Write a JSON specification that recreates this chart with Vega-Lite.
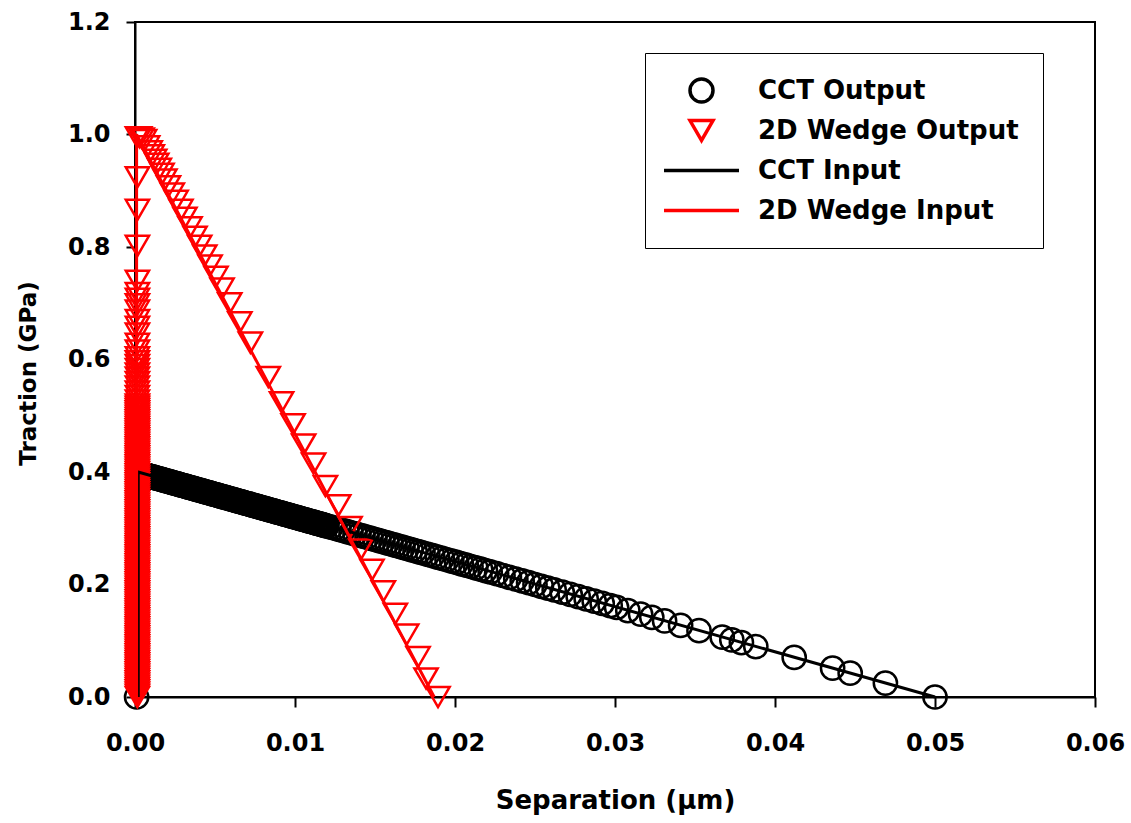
{
  "$schema": "https://vega.github.io/schema/vega-lite/v6.json",
  "width": 960,
  "height": 675,
  "autosize": "none",
  "padding": {"left": 135, "top": 22, "right": 36, "bottom": 126},
  "background": "white",
  "config": {
    "font": "DejaVu Sans",
    "view": {"stroke": "black", "strokeWidth": 2},
    "axis": {
      "grid": false,
      "domainColor": "black",
      "domainWidth": 2,
      "tickColor": "black",
      "tickWidth": 2,
      "labelFont": "DejaVu Sans",
      "labelFontWeight": "bold",
      "labelFontSize": 24,
      "labelColor": "black",
      "labelFlush": false,
      "titleFont": "DejaVu Sans",
      "titleFontWeight": "bold",
      "titleFontSize": 26,
      "titleColor": "black"
    }
  },
  "datasets": {
    "pts": [
      {"s": "CCT Output", "x": 0.0001, "y": 0.0},
      {"s": "CCT Output", "x": 0.0004, "y": 0.3968},
      {"s": "CCT Output", "x": 0.0006, "y": 0.3952},
      {"s": "CCT Output", "x": 0.0008, "y": 0.3936},
      {"s": "CCT Output", "x": 0.0010, "y": 0.392},
      {"s": "CCT Output", "x": 0.0012, "y": 0.3904},
      {"s": "CCT Output", "x": 0.0014, "y": 0.3888},
      {"s": "CCT Output", "x": 0.0016, "y": 0.3872},
      {"s": "CCT Output", "x": 0.0018, "y": 0.3856},
      {"s": "CCT Output", "x": 0.0020, "y": 0.384},
      {"s": "CCT Output", "x": 0.0022, "y": 0.3824},
      {"s": "CCT Output", "x": 0.0024, "y": 0.3808},
      {"s": "CCT Output", "x": 0.0026, "y": 0.3792},
      {"s": "CCT Output", "x": 0.0028, "y": 0.3776},
      {"s": "CCT Output", "x": 0.0030, "y": 0.376},
      {"s": "CCT Output", "x": 0.0032, "y": 0.3744},
      {"s": "CCT Output", "x": 0.0034, "y": 0.3728},
      {"s": "CCT Output", "x": 0.0036, "y": 0.3712},
      {"s": "CCT Output", "x": 0.0038, "y": 0.3696},
      {"s": "CCT Output", "x": 0.0040, "y": 0.368},
      {"s": "CCT Output", "x": 0.0042, "y": 0.3664},
      {"s": "CCT Output", "x": 0.0044, "y": 0.3648},
      {"s": "CCT Output", "x": 0.0046, "y": 0.3632},
      {"s": "CCT Output", "x": 0.0048, "y": 0.3616},
      {"s": "CCT Output", "x": 0.0050, "y": 0.36},
      {"s": "CCT Output", "x": 0.0052, "y": 0.3584},
      {"s": "CCT Output", "x": 0.0054, "y": 0.3568},
      {"s": "CCT Output", "x": 0.0056, "y": 0.3552},
      {"s": "CCT Output", "x": 0.0058, "y": 0.3536},
      {"s": "CCT Output", "x": 0.0060, "y": 0.352},
      {"s": "CCT Output", "x": 0.0062, "y": 0.3504},
      {"s": "CCT Output", "x": 0.0064, "y": 0.3488},
      {"s": "CCT Output", "x": 0.0066, "y": 0.3472},
      {"s": "CCT Output", "x": 0.0068, "y": 0.3456},
      {"s": "CCT Output", "x": 0.0070, "y": 0.344},
      {"s": "CCT Output", "x": 0.0072, "y": 0.3424},
      {"s": "CCT Output", "x": 0.0074, "y": 0.3408},
      {"s": "CCT Output", "x": 0.0076, "y": 0.3392},
      {"s": "CCT Output", "x": 0.0078, "y": 0.3376},
      {"s": "CCT Output", "x": 0.0080, "y": 0.336},
      {"s": "CCT Output", "x": 0.0082, "y": 0.3344},
      {"s": "CCT Output", "x": 0.0084, "y": 0.3328},
      {"s": "CCT Output", "x": 0.0086, "y": 0.3312},
      {"s": "CCT Output", "x": 0.0088, "y": 0.3296},
      {"s": "CCT Output", "x": 0.0090, "y": 0.328},
      {"s": "CCT Output", "x": 0.0092, "y": 0.3264},
      {"s": "CCT Output", "x": 0.0094, "y": 0.3248},
      {"s": "CCT Output", "x": 0.0096, "y": 0.3232},
      {"s": "CCT Output", "x": 0.0098, "y": 0.3216},
      {"s": "CCT Output", "x": 0.0100, "y": 0.32},
      {"s": "CCT Output", "x": 0.0102, "y": 0.3184},
      {"s": "CCT Output", "x": 0.0104, "y": 0.3168},
      {"s": "CCT Output", "x": 0.0106, "y": 0.3152},
      {"s": "CCT Output", "x": 0.0108, "y": 0.3136},
      {"s": "CCT Output", "x": 0.0110, "y": 0.312},
      {"s": "CCT Output", "x": 0.0112, "y": 0.3104},
      {"s": "CCT Output", "x": 0.0114, "y": 0.3088},
      {"s": "CCT Output", "x": 0.0116, "y": 0.3072},
      {"s": "CCT Output", "x": 0.0118, "y": 0.3056},
      {"s": "CCT Output", "x": 0.0120, "y": 0.304},
      {"s": "CCT Output", "x": 0.0005, "y": 0.396},
      {"s": "CCT Output", "x": 0.0007, "y": 0.3944},
      {"s": "CCT Output", "x": 0.0009, "y": 0.3928},
      {"s": "CCT Output", "x": 0.0011, "y": 0.3912},
      {"s": "CCT Output", "x": 0.0013, "y": 0.3896},
      {"s": "CCT Output", "x": 0.0015, "y": 0.388},
      {"s": "CCT Output", "x": 0.0017, "y": 0.3864},
      {"s": "CCT Output", "x": 0.0019, "y": 0.3848},
      {"s": "CCT Output", "x": 0.0021, "y": 0.3832},
      {"s": "CCT Output", "x": 0.0023, "y": 0.3816},
      {"s": "CCT Output", "x": 0.0025, "y": 0.38},
      {"s": "CCT Output", "x": 0.0027, "y": 0.3784},
      {"s": "CCT Output", "x": 0.0029, "y": 0.3768},
      {"s": "CCT Output", "x": 0.0031, "y": 0.3752},
      {"s": "CCT Output", "x": 0.0033, "y": 0.3736},
      {"s": "CCT Output", "x": 0.0035, "y": 0.372},
      {"s": "CCT Output", "x": 0.0037, "y": 0.3704},
      {"s": "CCT Output", "x": 0.0039, "y": 0.3688},
      {"s": "CCT Output", "x": 0.0041, "y": 0.3672},
      {"s": "CCT Output", "x": 0.0043, "y": 0.3656},
      {"s": "CCT Output", "x": 0.0045, "y": 0.364},
      {"s": "CCT Output", "x": 0.0047, "y": 0.3624},
      {"s": "CCT Output", "x": 0.0049, "y": 0.3608},
      {"s": "CCT Output", "x": 0.0051, "y": 0.3592},
      {"s": "CCT Output", "x": 0.0053, "y": 0.3576},
      {"s": "CCT Output", "x": 0.0055, "y": 0.356},
      {"s": "CCT Output", "x": 0.0057, "y": 0.3544},
      {"s": "CCT Output", "x": 0.0059, "y": 0.3528},
      {"s": "CCT Output", "x": 0.0061, "y": 0.3512},
      {"s": "CCT Output", "x": 0.0063, "y": 0.3496},
      {"s": "CCT Output", "x": 0.0065, "y": 0.348},
      {"s": "CCT Output", "x": 0.0067, "y": 0.3464},
      {"s": "CCT Output", "x": 0.0069, "y": 0.3448},
      {"s": "CCT Output", "x": 0.0071, "y": 0.3432},
      {"s": "CCT Output", "x": 0.0073, "y": 0.3416},
      {"s": "CCT Output", "x": 0.0075, "y": 0.34},
      {"s": "CCT Output", "x": 0.0077, "y": 0.3384},
      {"s": "CCT Output", "x": 0.0079, "y": 0.3368},
      {"s": "CCT Output", "x": 0.0081, "y": 0.3352},
      {"s": "CCT Output", "x": 0.0083, "y": 0.3336},
      {"s": "CCT Output", "x": 0.0085, "y": 0.332},
      {"s": "CCT Output", "x": 0.0087, "y": 0.3304},
      {"s": "CCT Output", "x": 0.0089, "y": 0.3288},
      {"s": "CCT Output", "x": 0.0091, "y": 0.3272},
      {"s": "CCT Output", "x": 0.0093, "y": 0.3256},
      {"s": "CCT Output", "x": 0.0095, "y": 0.324},
      {"s": "CCT Output", "x": 0.0097, "y": 0.3224},
      {"s": "CCT Output", "x": 0.0099, "y": 0.3208},
      {"s": "CCT Output", "x": 0.0101, "y": 0.3192},
      {"s": "CCT Output", "x": 0.0103, "y": 0.3176},
      {"s": "CCT Output", "x": 0.0105, "y": 0.316},
      {"s": "CCT Output", "x": 0.0107, "y": 0.3144},
      {"s": "CCT Output", "x": 0.0109, "y": 0.3128},
      {"s": "CCT Output", "x": 0.0111, "y": 0.3112},
      {"s": "CCT Output", "x": 0.0113, "y": 0.3096},
      {"s": "CCT Output", "x": 0.0115, "y": 0.308},
      {"s": "CCT Output", "x": 0.0117, "y": 0.3064},
      {"s": "CCT Output", "x": 0.0119, "y": 0.3048},
      {"s": "CCT Output", "x": 0.01225, "y": 0.302},
      {"s": "CCT Output", "x": 0.0125, "y": 0.300},
      {"s": "CCT Output", "x": 0.01275, "y": 0.298},
      {"s": "CCT Output", "x": 0.0130, "y": 0.296},
      {"s": "CCT Output", "x": 0.01325, "y": 0.294},
      {"s": "CCT Output", "x": 0.0135, "y": 0.292},
      {"s": "CCT Output", "x": 0.01375, "y": 0.290},
      {"s": "CCT Output", "x": 0.0140, "y": 0.288},
      {"s": "CCT Output", "x": 0.01425, "y": 0.286},
      {"s": "CCT Output", "x": 0.0145, "y": 0.284},
      {"s": "CCT Output", "x": 0.01475, "y": 0.282},
      {"s": "CCT Output", "x": 0.0150, "y": 0.280},
      {"s": "CCT Output", "x": 0.01525, "y": 0.278},
      {"s": "CCT Output", "x": 0.0155, "y": 0.276},
      {"s": "CCT Output", "x": 0.01575, "y": 0.274},
      {"s": "CCT Output", "x": 0.0160, "y": 0.272},
      {"s": "CCT Output", "x": 0.01625, "y": 0.270},
      {"s": "CCT Output", "x": 0.0165, "y": 0.268},
      {"s": "CCT Output", "x": 0.01675, "y": 0.266},
      {"s": "CCT Output", "x": 0.0170, "y": 0.264},
      {"s": "CCT Output", "x": 0.01725, "y": 0.262},
      {"s": "CCT Output", "x": 0.0175, "y": 0.260},
      {"s": "CCT Output", "x": 0.01775, "y": 0.258},
      {"s": "CCT Output", "x": 0.0180, "y": 0.256},
      {"s": "CCT Output", "x": 0.0183, "y": 0.2536},
      {"s": "CCT Output", "x": 0.0186, "y": 0.2512},
      {"s": "CCT Output", "x": 0.0189, "y": 0.2488},
      {"s": "CCT Output", "x": 0.0192, "y": 0.2464},
      {"s": "CCT Output", "x": 0.0195, "y": 0.244},
      {"s": "CCT Output", "x": 0.0198, "y": 0.2416},
      {"s": "CCT Output", "x": 0.0201, "y": 0.2392},
      {"s": "CCT Output", "x": 0.0204, "y": 0.2368},
      {"s": "CCT Output", "x": 0.0207, "y": 0.2344},
      {"s": "CCT Output", "x": 0.0210, "y": 0.232},
      {"s": "CCT Output", "x": 0.0213, "y": 0.2296},
      {"s": "CCT Output", "x": 0.0216, "y": 0.2272},
      {"s": "CCT Output", "x": 0.0219, "y": 0.2248},
      {"s": "CCT Output", "x": 0.0222, "y": 0.2224},
      {"s": "CCT Output", "x": 0.0226, "y": 0.2192},
      {"s": "CCT Output", "x": 0.0230, "y": 0.216},
      {"s": "CCT Output", "x": 0.0234, "y": 0.2128},
      {"s": "CCT Output", "x": 0.0238, "y": 0.2096},
      {"s": "CCT Output", "x": 0.0242, "y": 0.2064},
      {"s": "CCT Output", "x": 0.0246, "y": 0.2032},
      {"s": "CCT Output", "x": 0.0250, "y": 0.200},
      {"s": "CCT Output", "x": 0.0254, "y": 0.1968},
      {"s": "CCT Output", "x": 0.0258, "y": 0.1936},
      {"s": "CCT Output", "x": 0.0262, "y": 0.1904},
      {"s": "CCT Output", "x": 0.0267, "y": 0.1864},
      {"s": "CCT Output", "x": 0.0272, "y": 0.1824},
      {"s": "CCT Output", "x": 0.0277, "y": 0.1784},
      {"s": "CCT Output", "x": 0.0282, "y": 0.1744},
      {"s": "CCT Output", "x": 0.0287, "y": 0.1704},
      {"s": "CCT Output", "x": 0.0292, "y": 0.1664},
      {"s": "CCT Output", "x": 0.0297, "y": 0.1624},
      {"s": "CCT Output", "x": 0.0301, "y": 0.1592},
      {"s": "CCT Output", "x": 0.0308, "y": 0.1536},
      {"s": "CCT Output", "x": 0.0316, "y": 0.1472},
      {"s": "CCT Output", "x": 0.0323, "y": 0.1416},
      {"s": "CCT Output", "x": 0.0331, "y": 0.1352},
      {"s": "CCT Output", "x": 0.0341, "y": 0.1272},
      {"s": "CCT Output", "x": 0.03525, "y": 0.118},
      {"s": "CCT Output", "x": 0.0367, "y": 0.1064},
      {"s": "CCT Output", "x": 0.0373, "y": 0.1016},
      {"s": "CCT Output", "x": 0.0379, "y": 0.0968},
      {"s": "CCT Output", "x": 0.0388, "y": 0.0896},
      {"s": "CCT Output", "x": 0.0412, "y": 0.0704},
      {"s": "CCT Output", "x": 0.0436, "y": 0.0512},
      {"s": "CCT Output", "x": 0.0447, "y": 0.0424},
      {"s": "CCT Output", "x": 0.0469, "y": 0.0248},
      {"s": "CCT Output", "x": 0.0500, "y": 0.0},
      {"s": "2D Wedge Output", "x": 0.00015, "y": 0.0},
      {"s": "2D Wedge Output", "x": 0.00015, "y": 0.004},
      {"s": "2D Wedge Output", "x": 0.00015, "y": 0.008},
      {"s": "2D Wedge Output", "x": 0.00015, "y": 0.012},
      {"s": "2D Wedge Output", "x": 0.00015, "y": 0.016},
      {"s": "2D Wedge Output", "x": 0.00015, "y": 0.02},
      {"s": "2D Wedge Output", "x": 0.00015, "y": 0.024},
      {"s": "2D Wedge Output", "x": 0.00015, "y": 0.028},
      {"s": "2D Wedge Output", "x": 0.00015, "y": 0.032},
      {"s": "2D Wedge Output", "x": 0.00015, "y": 0.036},
      {"s": "2D Wedge Output", "x": 0.00015, "y": 0.04},
      {"s": "2D Wedge Output", "x": 0.00015, "y": 0.044},
      {"s": "2D Wedge Output", "x": 0.00015, "y": 0.048},
      {"s": "2D Wedge Output", "x": 0.00015, "y": 0.052},
      {"s": "2D Wedge Output", "x": 0.00015, "y": 0.056},
      {"s": "2D Wedge Output", "x": 0.00015, "y": 0.06},
      {"s": "2D Wedge Output", "x": 0.00015, "y": 0.064},
      {"s": "2D Wedge Output", "x": 0.00015, "y": 0.068},
      {"s": "2D Wedge Output", "x": 0.00015, "y": 0.072},
      {"s": "2D Wedge Output", "x": 0.00015, "y": 0.076},
      {"s": "2D Wedge Output", "x": 0.00015, "y": 0.08},
      {"s": "2D Wedge Output", "x": 0.00015, "y": 0.084},
      {"s": "2D Wedge Output", "x": 0.00015, "y": 0.088},
      {"s": "2D Wedge Output", "x": 0.00015, "y": 0.092},
      {"s": "2D Wedge Output", "x": 0.00015, "y": 0.096},
      {"s": "2D Wedge Output", "x": 0.00015, "y": 0.1},
      {"s": "2D Wedge Output", "x": 0.00015, "y": 0.104},
      {"s": "2D Wedge Output", "x": 0.00015, "y": 0.108},
      {"s": "2D Wedge Output", "x": 0.00015, "y": 0.112},
      {"s": "2D Wedge Output", "x": 0.00015, "y": 0.116},
      {"s": "2D Wedge Output", "x": 0.00015, "y": 0.12},
      {"s": "2D Wedge Output", "x": 0.00015, "y": 0.124},
      {"s": "2D Wedge Output", "x": 0.00015, "y": 0.128},
      {"s": "2D Wedge Output", "x": 0.00015, "y": 0.132},
      {"s": "2D Wedge Output", "x": 0.00015, "y": 0.136},
      {"s": "2D Wedge Output", "x": 0.00015, "y": 0.14},
      {"s": "2D Wedge Output", "x": 0.00015, "y": 0.144},
      {"s": "2D Wedge Output", "x": 0.00015, "y": 0.148},
      {"s": "2D Wedge Output", "x": 0.00015, "y": 0.152},
      {"s": "2D Wedge Output", "x": 0.00015, "y": 0.156},
      {"s": "2D Wedge Output", "x": 0.00015, "y": 0.16},
      {"s": "2D Wedge Output", "x": 0.00015, "y": 0.164},
      {"s": "2D Wedge Output", "x": 0.00015, "y": 0.168},
      {"s": "2D Wedge Output", "x": 0.00015, "y": 0.172},
      {"s": "2D Wedge Output", "x": 0.00015, "y": 0.176},
      {"s": "2D Wedge Output", "x": 0.00015, "y": 0.18},
      {"s": "2D Wedge Output", "x": 0.00015, "y": 0.184},
      {"s": "2D Wedge Output", "x": 0.00015, "y": 0.188},
      {"s": "2D Wedge Output", "x": 0.00015, "y": 0.192},
      {"s": "2D Wedge Output", "x": 0.00015, "y": 0.196},
      {"s": "2D Wedge Output", "x": 0.00015, "y": 0.2},
      {"s": "2D Wedge Output", "x": 0.00015, "y": 0.204},
      {"s": "2D Wedge Output", "x": 0.00015, "y": 0.208},
      {"s": "2D Wedge Output", "x": 0.00015, "y": 0.212},
      {"s": "2D Wedge Output", "x": 0.00015, "y": 0.216},
      {"s": "2D Wedge Output", "x": 0.00015, "y": 0.22},
      {"s": "2D Wedge Output", "x": 0.00015, "y": 0.224},
      {"s": "2D Wedge Output", "x": 0.00015, "y": 0.228},
      {"s": "2D Wedge Output", "x": 0.00015, "y": 0.232},
      {"s": "2D Wedge Output", "x": 0.00015, "y": 0.236},
      {"s": "2D Wedge Output", "x": 0.00015, "y": 0.24},
      {"s": "2D Wedge Output", "x": 0.00015, "y": 0.244},
      {"s": "2D Wedge Output", "x": 0.00015, "y": 0.248},
      {"s": "2D Wedge Output", "x": 0.00015, "y": 0.252},
      {"s": "2D Wedge Output", "x": 0.00015, "y": 0.256},
      {"s": "2D Wedge Output", "x": 0.00015, "y": 0.26},
      {"s": "2D Wedge Output", "x": 0.00015, "y": 0.264},
      {"s": "2D Wedge Output", "x": 0.00015, "y": 0.268},
      {"s": "2D Wedge Output", "x": 0.00015, "y": 0.272},
      {"s": "2D Wedge Output", "x": 0.00015, "y": 0.276},
      {"s": "2D Wedge Output", "x": 0.00015, "y": 0.28},
      {"s": "2D Wedge Output", "x": 0.00015, "y": 0.284},
      {"s": "2D Wedge Output", "x": 0.00015, "y": 0.288},
      {"s": "2D Wedge Output", "x": 0.00015, "y": 0.292},
      {"s": "2D Wedge Output", "x": 0.00015, "y": 0.296},
      {"s": "2D Wedge Output", "x": 0.00015, "y": 0.3},
      {"s": "2D Wedge Output", "x": 0.00015, "y": 0.304},
      {"s": "2D Wedge Output", "x": 0.00015, "y": 0.308},
      {"s": "2D Wedge Output", "x": 0.00015, "y": 0.312},
      {"s": "2D Wedge Output", "x": 0.00015, "y": 0.316},
      {"s": "2D Wedge Output", "x": 0.00015, "y": 0.32},
      {"s": "2D Wedge Output", "x": 0.00015, "y": 0.324},
      {"s": "2D Wedge Output", "x": 0.00015, "y": 0.328},
      {"s": "2D Wedge Output", "x": 0.00015, "y": 0.332},
      {"s": "2D Wedge Output", "x": 0.00015, "y": 0.336},
      {"s": "2D Wedge Output", "x": 0.00015, "y": 0.34},
      {"s": "2D Wedge Output", "x": 0.00015, "y": 0.344},
      {"s": "2D Wedge Output", "x": 0.00015, "y": 0.348},
      {"s": "2D Wedge Output", "x": 0.00015, "y": 0.352},
      {"s": "2D Wedge Output", "x": 0.00015, "y": 0.356},
      {"s": "2D Wedge Output", "x": 0.00015, "y": 0.36},
      {"s": "2D Wedge Output", "x": 0.00015, "y": 0.364},
      {"s": "2D Wedge Output", "x": 0.00015, "y": 0.368},
      {"s": "2D Wedge Output", "x": 0.00015, "y": 0.372},
      {"s": "2D Wedge Output", "x": 0.00015, "y": 0.376},
      {"s": "2D Wedge Output", "x": 0.00015, "y": 0.38},
      {"s": "2D Wedge Output", "x": 0.00015, "y": 0.384},
      {"s": "2D Wedge Output", "x": 0.00015, "y": 0.388},
      {"s": "2D Wedge Output", "x": 0.00015, "y": 0.392},
      {"s": "2D Wedge Output", "x": 0.00015, "y": 0.396},
      {"s": "2D Wedge Output", "x": 0.00015, "y": 0.4},
      {"s": "2D Wedge Output", "x": 0.00015, "y": 0.404},
      {"s": "2D Wedge Output", "x": 0.00015, "y": 0.408},
      {"s": "2D Wedge Output", "x": 0.00015, "y": 0.412},
      {"s": "2D Wedge Output", "x": 0.00015, "y": 0.416},
      {"s": "2D Wedge Output", "x": 0.00015, "y": 0.42},
      {"s": "2D Wedge Output", "x": 0.00015, "y": 0.424},
      {"s": "2D Wedge Output", "x": 0.00015, "y": 0.428},
      {"s": "2D Wedge Output", "x": 0.00015, "y": 0.432},
      {"s": "2D Wedge Output", "x": 0.00015, "y": 0.436},
      {"s": "2D Wedge Output", "x": 0.00015, "y": 0.44},
      {"s": "2D Wedge Output", "x": 0.00015, "y": 0.444},
      {"s": "2D Wedge Output", "x": 0.00015, "y": 0.448},
      {"s": "2D Wedge Output", "x": 0.00015, "y": 0.452},
      {"s": "2D Wedge Output", "x": 0.00015, "y": 0.456},
      {"s": "2D Wedge Output", "x": 0.00015, "y": 0.46},
      {"s": "2D Wedge Output", "x": 0.00015, "y": 0.464},
      {"s": "2D Wedge Output", "x": 0.00015, "y": 0.468},
      {"s": "2D Wedge Output", "x": 0.00015, "y": 0.472},
      {"s": "2D Wedge Output", "x": 0.00015, "y": 0.476},
      {"s": "2D Wedge Output", "x": 0.00015, "y": 0.48},
      {"s": "2D Wedge Output", "x": 0.00015, "y": 0.484},
      {"s": "2D Wedge Output", "x": 0.00015, "y": 0.488},
      {"s": "2D Wedge Output", "x": 0.00015, "y": 0.492},
      {"s": "2D Wedge Output", "x": 0.00015, "y": 0.496},
      {"s": "2D Wedge Output", "x": 0.00015, "y": 0.5},
      {"s": "2D Wedge Output", "x": 0.00015, "y": 0.504},
      {"s": "2D Wedge Output", "x": 0.00015, "y": 0.508},
      {"s": "2D Wedge Output", "x": 0.00015, "y": 0.512},
      {"s": "2D Wedge Output", "x": 0.00015, "y": 0.516},
      {"s": "2D Wedge Output", "x": 0.00015, "y": 0.52},
      {"s": "2D Wedge Output", "x": 0.00015, "y": 0.527},
      {"s": "2D Wedge Output", "x": 0.00015, "y": 0.535},
      {"s": "2D Wedge Output", "x": 0.00015, "y": 0.543},
      {"s": "2D Wedge Output", "x": 0.00015, "y": 0.552},
      {"s": "2D Wedge Output", "x": 0.00015, "y": 0.56},
      {"s": "2D Wedge Output", "x": 0.00015, "y": 0.568},
      {"s": "2D Wedge Output", "x": 0.00015, "y": 0.575},
      {"s": "2D Wedge Output", "x": 0.00015, "y": 0.583},
      {"s": "2D Wedge Output", "x": 0.00015, "y": 0.59},
      {"s": "2D Wedge Output", "x": 0.00015, "y": 0.597},
      {"s": "2D Wedge Output", "x": 0.00015, "y": 0.604},
      {"s": "2D Wedge Output", "x": 0.00015, "y": 0.616},
      {"s": "2D Wedge Output", "x": 0.00015, "y": 0.628},
      {"s": "2D Wedge Output", "x": 0.00015, "y": 0.646},
      {"s": "2D Wedge Output", "x": 0.00015, "y": 0.658},
      {"s": "2D Wedge Output", "x": 0.00015, "y": 0.67},
      {"s": "2D Wedge Output", "x": 0.00015, "y": 0.687},
      {"s": "2D Wedge Output", "x": 0.00015, "y": 0.698},
      {"s": "2D Wedge Output", "x": 0.00015, "y": 0.708},
      {"s": "2D Wedge Output", "x": 0.00015, "y": 0.718},
      {"s": "2D Wedge Output", "x": 0.00015, "y": 0.74},
      {"s": "2D Wedge Output", "x": 0.00015, "y": 0.802},
      {"s": "2D Wedge Output", "x": 0.00015, "y": 0.866},
      {"s": "2D Wedge Output", "x": 0.00015, "y": 0.924},
      {"s": "2D Wedge Output", "x": 0.00015, "y": 0.995},
      {"s": "2D Wedge Output", "x": 0.0003, "y": 0.995},
      {"s": "2D Wedge Output", "x": 0.00045, "y": 0.993},
      {"s": "2D Wedge Output", "x": 0.0006, "y": 0.99},
      {"s": "2D Wedge Output", "x": 0.00079, "y": 0.979},
      {"s": "2D Wedge Output", "x": 0.00095, "y": 0.970},
      {"s": "2D Wedge Output", "x": 0.00108, "y": 0.963},
      {"s": "2D Wedge Output", "x": 0.00123, "y": 0.955},
      {"s": "2D Wedge Output", "x": 0.00136, "y": 0.948},
      {"s": "2D Wedge Output", "x": 0.00152, "y": 0.939},
      {"s": "2D Wedge Output", "x": 0.00169, "y": 0.930},
      {"s": "2D Wedge Output", "x": 0.00187, "y": 0.920},
      {"s": "2D Wedge Output", "x": 0.00209, "y": 0.908},
      {"s": "2D Wedge Output", "x": 0.00233, "y": 0.895},
      {"s": "2D Wedge Output", "x": 0.00257, "y": 0.882},
      {"s": "2D Wedge Output", "x": 0.00287, "y": 0.866},
      {"s": "2D Wedge Output", "x": 0.00312, "y": 0.852},
      {"s": "2D Wedge Output", "x": 0.00344, "y": 0.835},
      {"s": "2D Wedge Output", "x": 0.00375, "y": 0.818},
      {"s": "2D Wedge Output", "x": 0.00404, "y": 0.802},
      {"s": "2D Wedge Output", "x": 0.00436, "y": 0.785},
      {"s": "2D Wedge Output", "x": 0.00469, "y": 0.767},
      {"s": "2D Wedge Output", "x": 0.00506, "y": 0.747},
      {"s": "2D Wedge Output", "x": 0.00544, "y": 0.726},
      {"s": "2D Wedge Output", "x": 0.00592, "y": 0.700},
      {"s": "2D Wedge Output", "x": 0.00655, "y": 0.666},
      {"s": "2D Wedge Output", "x": 0.00721, "y": 0.630},
      {"s": "2D Wedge Output", "x": 0.00833, "y": 0.569},
      {"s": "2D Wedge Output", "x": 0.00916, "y": 0.524},
      {"s": "2D Wedge Output", "x": 0.00988, "y": 0.485},
      {"s": "2D Wedge Output", "x": 0.01054, "y": 0.449},
      {"s": "2D Wedge Output", "x": 0.01116, "y": 0.415},
      {"s": "2D Wedge Output", "x": 0.0119, "y": 0.375},
      {"s": "2D Wedge Output", "x": 0.01273, "y": 0.341},
      {"s": "2D Wedge Output", "x": 0.01344, "y": 0.302},
      {"s": "2D Wedge Output", "x": 0.01411, "y": 0.262},
      {"s": "2D Wedge Output", "x": 0.01481, "y": 0.226},
      {"s": "2D Wedge Output", "x": 0.01552, "y": 0.188},
      {"s": "2D Wedge Output", "x": 0.01627, "y": 0.148},
      {"s": "2D Wedge Output", "x": 0.01698, "y": 0.111},
      {"s": "2D Wedge Output", "x": 0.01769, "y": 0.071},
      {"s": "2D Wedge Output", "x": 0.01819, "y": 0.033},
      {"s": "2D Wedge Output", "x": 0.01894, "y": 0.0}
    ],
    "cctInput": [
      {"o": 1, "x": 0.0002, "y": 0.0},
      {"o": 2, "x": 0.0002, "y": 0.4},
      {"o": 3, "x": 0.05, "y": 0.0}
    ],
    "wedgeInput": [
      {"o": 1, "x": 0.0001, "y": 0.0},
      {"o": 2, "x": 0.0001, "y": 1.0},
      {"o": 3, "x": 0.0187, "y": 0.0}
    ]
  },
  "encoding": {
    "x": {
      "field": "x",
      "type": "quantitative",
      "scale": {"domain": [0, 0.06], "nice": false, "zero": false},
      "axis": {
        "title": "Separation (μm)",
        "values": [0, 0.01, 0.02, 0.03, 0.04, 0.05, 0.06],
        "format": ".2f",
        "tickSize": 10,
        "labelPadding": 24,
        "titleX": 480,
        "titleY": 103,
        "titleBaseline": "middle"
      }
    },
    "y": {
      "field": "y",
      "type": "quantitative",
      "scale": {"domain": [0, 1.2], "nice": false, "zero": false},
      "axis": {
        "title": "Traction (GPa)",
        "titleFontSize": 23,
        "values": [0, 0.2, 0.4, 0.6, 0.8, 1.0, 1.2],
        "format": ".1f",
        "tickSize": 9,
        "labelPadding": 16,
        "titleX": -107,
        "titleY": 351,
        "titleBaseline": "middle"
      }
    }
  },
  "layer": [
    {
      "data": {"name": "pts"},
      "mark": {"type": "point", "filled": false, "size": 540, "strokeWidth": 2.5, "opacity": 1},
      "encoding": {
        "color": {
          "field": "s",
          "type": "nominal",
          "scale": {
            "domain": ["CCT Output", "2D Wedge Output", "CCT Input", "2D Wedge Input"],
            "range": ["#000000", "#ff0000", "#000000", "#ff0000"]
          },
          "legend": {
            "title": null,
            "orient": "none",
            "legendX": 510,
            "legendY": 31,
            "padding": 24,
            "strokeColor": "black",
            "fillColor": "white",
            "gridAlign": "all",
            "symbolSize": 529,
            "symbolStrokeWidth": 3.5,
            "symbolOffset": 19,
            "labelOffset": 43,
            "rowPadding": 4,
            "labelFont": "DejaVu Sans",
            "labelFontWeight": "bold",
            "labelFontSize": 26,
            "labelColor": "black",
            "labelLimit": 400
          }
        },
        "shape": {
          "field": "s",
          "type": "nominal",
          "scale": {
            "domain": ["CCT Output", "2D Wedge Output", "CCT Input", "2D Wedge Input"],
            "range": ["circle", "triangle-down", "M-3.26,0H3.26", "M-3.26,0H3.26"]
          },
          "legend": {
            "title": null,
            "orient": "none",
            "legendX": 510,
            "legendY": 31,
            "padding": 24,
            "strokeColor": "black",
            "fillColor": "white",
            "gridAlign": "all",
            "symbolSize": 529,
            "symbolStrokeWidth": 3.5,
            "symbolOffset": 19,
            "labelOffset": 43,
            "rowPadding": 4,
            "labelFont": "DejaVu Sans",
            "labelFontWeight": "bold",
            "labelFontSize": 26,
            "labelColor": "black",
            "labelLimit": 400
          }
        }
      }
    },
    {
      "data": {"name": "cctInput"},
      "mark": {"type": "line", "color": "#000000", "strokeWidth": 3},
      "encoding": {"order": {"field": "o", "type": "quantitative"}}
    },
    {
      "data": {"name": "wedgeInput"},
      "mark": {"type": "line", "color": "#ff0000", "strokeWidth": 3},
      "encoding": {"order": {"field": "o", "type": "quantitative"}}
    }
  ]
}
